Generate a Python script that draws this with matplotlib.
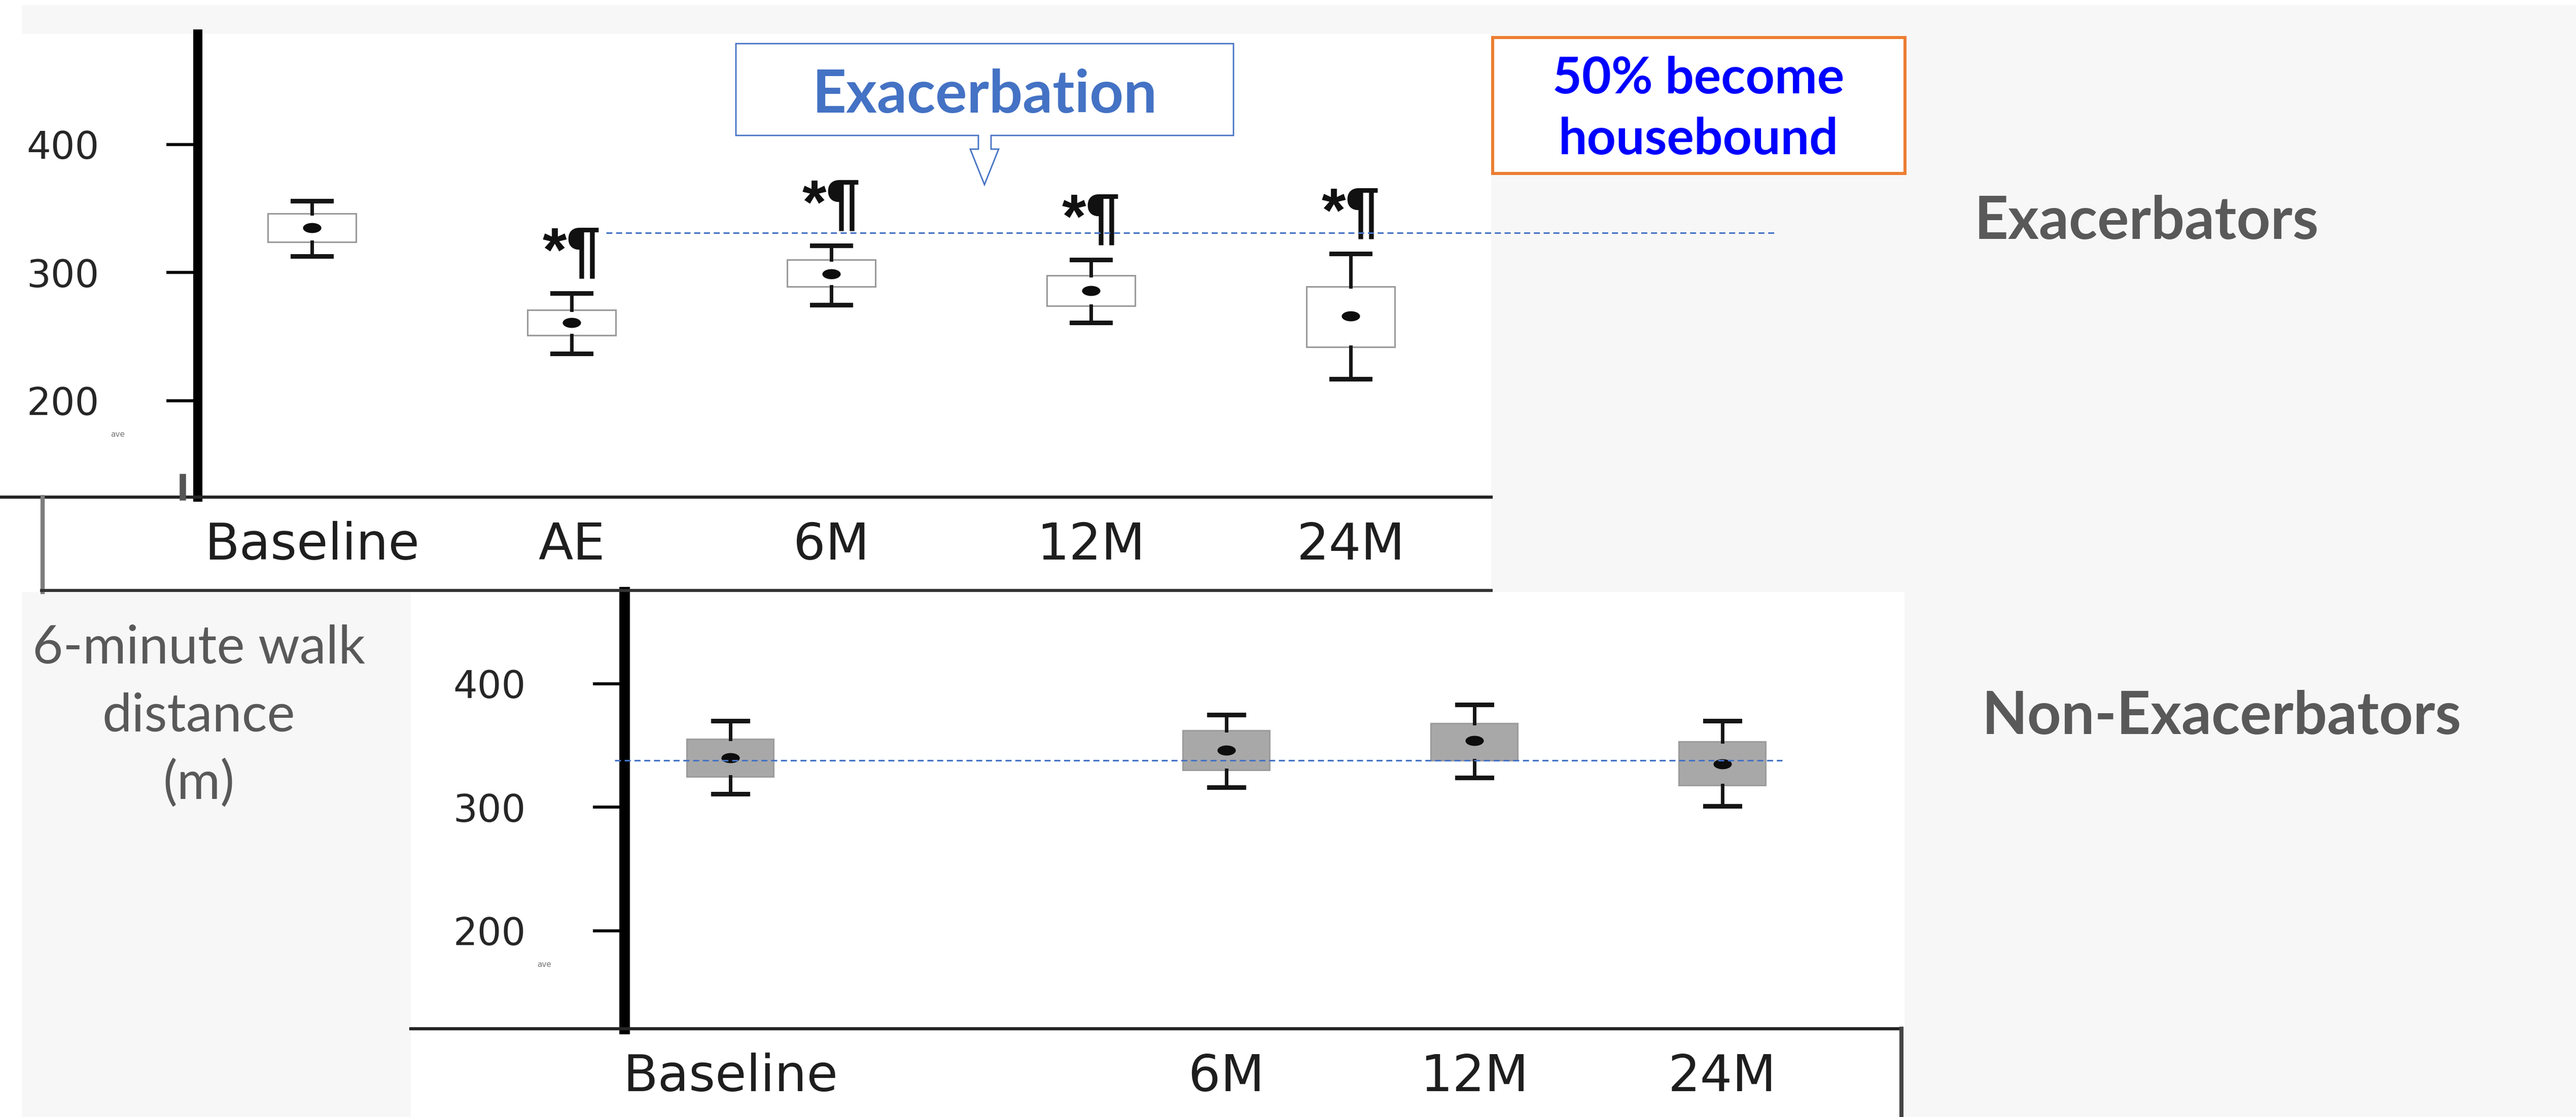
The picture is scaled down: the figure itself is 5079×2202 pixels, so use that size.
import matplotlib
matplotlib.use("Agg")
import matplotlib.pyplot as plt
from matplotlib.patches import Rectangle, Polygon
from matplotlib.lines import Line2D
from matplotlib.path import Path
from matplotlib.transforms import blended_transform_factory

# ---------------------------------------------------------------- data
categories = ["Baseline", "AE", "6M", "12M", "24M"]

# Exacerbators: 6-minute walk distance (m) - mean, box limits, whisker limits
exac_mean = [335, 261, 299, 286, 266]
exac_q1 = [324, 251, 289, 274, 242]
exac_q3 = [346, 271, 310, 298, 289]
exac_low = [313, 237, 275, 261, 217]
exac_high = [356, 284, 321, 310, 315]
exac_flags = ["", "*¶", "*¶", "*¶", "*¶"]

# Non-exacerbators (no AE visit)
non_mean = [340, None, 346, 354, 335]
non_q1 = [325, None, 330, 338, 318]
non_q3 = [355, None, 362, 368, 353]
non_low = [311, None, 316, 324, 301]
non_high = [370, None, 375, 383, 370]

exac_reference = 331
non_reference = 338
y_ticks = [200, 300, 400]

# ---------------------------------------------------------------- canvas
W, H = 5079, 2202
DPI = 100
fig = plt.figure(figsize=(W / DPI, H / DPI), dpi=DPI, facecolor="white")


def fx(x):
    return x / W


def fy(y):
    return 1 - y / H


def px_rect(x0, y0, x1, y1, **kw):
    return Rectangle((fx(x0), fy(y1)), (x1 - x0) / W, (y1 - y0) / H,
                     transform=fig.transFigure, **kw)


def px_line(xs, ys, **kw):
    fig.add_artist(Line2D([fx(x) for x in xs], [fy(y) for y in ys],
                          transform=fig.transFigure, **kw))


# slide background and the two white chart panels
fig.add_artist(px_rect(43, 10, W, H, facecolor="#f7f7f7", edgecolor="none", zorder=-10))
fig.add_artist(px_rect(0, 67, 2940, 1167, facecolor="white", edgecolor="none", zorder=-9))
fig.add_artist(px_rect(810, 1167, 3755, H, facecolor="white", edgecolor="none", zorder=-9))

grey_text = "#595959"
blue = "#4472C4"
ellipse = Path(Path.unit_circle().vertices * [1.0, 0.55], Path.unit_circle().codes)


def draw_panel(ax, means, q1, q3, lows, highs, face, edge, width, capw, spine_frac):
    idx = [i for i, m in enumerate(means) if m is not None]
    stats = [dict(med=means[i], q1=q1[i], q3=q3[i], whislo=lows[i],
                  whishi=highs[i], mean=means[i], fliers=[]) for i in idx]
    ax.bxp(stats, positions=idx, widths=width, capwidths=capw,
           showmeans=True, patch_artist=True, manage_ticks=False,
           boxprops=dict(facecolor=face, edgecolor=edge, linewidth=2.2),
           whiskerprops=dict(color="#151515", linewidth=5),
           capprops=dict(color="#151515", linewidth=6.5),
           medianprops=dict(linewidth=0),
           meanprops=dict(marker=ellipse, markersize=26, markerfacecolor="#0d0d0d",
                          markeredgecolor="none", zorder=4))
    ax.patch.set_alpha(0)
    for s in ("top", "right"):
        ax.spines[s].set_visible(False)
    ax.spines["left"].set_position(("axes", spine_frac))
    ax.spines["left"].set_linewidth(13)
    ax.spines["left"].set_color("black")
    ax.spines["bottom"].set_linewidth(4.5)
    ax.spines["bottom"].set_color("#252525")
    ax.set_yticks(y_ticks)
    ax.set_xticks(idx, [categories[i] for i in idx])
    ax.tick_params(axis="y", direction="out", length=45, width=4.3, color="black",
                   pad=95, labelsize=54, labelcolor="#262626")
    ax.tick_params(axis="x", length=0, pad=34, labelsize=72, labelcolor="#1e1e1e")


# ---------------------------------------------------------------- exacerbators
ax1 = fig.add_axes([fx(0), fy(980), 2940 / W, (980 - 67) / H])
draw_panel(ax1, exac_mean, exac_q1, exac_q3, exac_low, exac_high,
           "white", "#9a9a9a", 0.34, 0.15, 390 / 2940)
ax1.set_xlim(-1.201, 4.541)
ax1.set_ylim(124.75, 486.3)
for i, flag in enumerate(exac_flags):
    if flag:
        ax1.annotate(flag, (i, exac_high[i]), xytext=(0, 32), textcoords="offset points",
                     ha="center", va="baseline", fontsize=88, fontweight="bold",
                     family="Liberation Sans", color="#111111")
ax1.add_line(Line2D([fx(1195), fx(3501)], [exac_reference, exac_reference],
                    transform=blended_transform_factory(fig.transFigure, ax1.transData),
                    color=blue, linewidth=2.2, linestyle=(0, (3.9, 2.4)),
                    clip_on=False, zorder=5))

# ---------------------------------------------------------------- non-exacerbators
ax2 = fig.add_axes([fx(810), fy(2028), (3747 - 810) / W, (2028 - 1167) / H])
draw_panel(ax2, non_mean, non_q1, non_q3, non_low, non_high,
           "#a8a8a8", "#9c9c9c", 0.35, 0.14, (1231 - 810) / (3747 - 810))
ax2.spines["left"].set_linewidth(15)
ax2.set_xlim(-1.288, 4.718)
ax2.set_ylim(120.7, 474.3)
ax2.add_line(Line2D([fx(1212), fx(3514)], [non_reference, non_reference],
                    transform=blended_transform_factory(fig.transFigure, ax2.transData),
                    color=blue, linewidth=2.2, linestyle=(0, (3.9, 2.4)),
                    clip_on=False, zorder=5))

# ---------------------------------------------------------------- panel frames
px_line([84, 84], [980, 1167], color="#7d7d7d", linewidth=6, zorder=3)
px_line([82, 2940], [1164, 1164], color="#333333", linewidth=4.3, zorder=3)
px_line([3749, 3749], [2028, H], color="#444444", linewidth=5.8, zorder=3)
px_line([360, 360], [940, 980], color="#555555", linewidth=9, zorder=3)
fig.text(fx(232), fy(857), "ave", fontsize=11, color="#777777", ha="center", va="center")
fig.text(fx(1073), fy(1901), "ave", fontsize=11, color="#777777", ha="center", va="center")

# ---------------------------------------------------------------- callouts and labels
callout = [(1451, 86), (2432, 86), (2432, 267), (1954, 267), (1954, 294), (1969, 294),
           (1941, 364), (1913, 294), (1929, 294), (1929, 267), (1451, 267)]
fig.add_artist(Polygon([(fx(x), fy(y)) for x, y in callout], closed=True,
                       transform=fig.transFigure, facecolor="white", edgecolor=blue,
                       linewidth=2, zorder=5))
fig.text(fx(1942), fy(222), "Exacerbation", family="Lato", fontweight="bold",
         fontsize=84, color=blue, ha="center", va="baseline", zorder=6)

fig.add_artist(px_rect(2943, 74, 3756, 342, facecolor="white", edgecolor="#ED7D31",
                       linewidth=4.3, zorder=5))
fig.text(fx(3349), fy(184), "50% become", family="Lato", fontweight="bold",
         fontsize=72, color="#0000FF", ha="center", va="baseline", zorder=6)
fig.text(fx(3349), fy(304), "housebound", family="Lato", fontweight="bold",
         fontsize=72, color="#0000FF", ha="center", va="baseline", zorder=6)

fig.text(fx(3893), fy(471), "Exacerbators", family="Lato", fontweight="bold",
         fontsize=84, color=grey_text, ha="left", va="baseline")
fig.text(fx(3908), fy(1447), "Non-Exacerbators", family="Lato", fontweight="bold",
         fontsize=84, color=grey_text, ha="left", va="baseline")

for line, base in zip(["6-minute walk", "distance", "(m)"], [1307, 1441, 1575]):
    fig.text(fx(392), fy(base), line, family="Lato", fontsize=75, color=grey_text,
             ha="center", va="baseline")

fig.savefig("out.png", dpi=DPI, facecolor=fig.get_facecolor())
